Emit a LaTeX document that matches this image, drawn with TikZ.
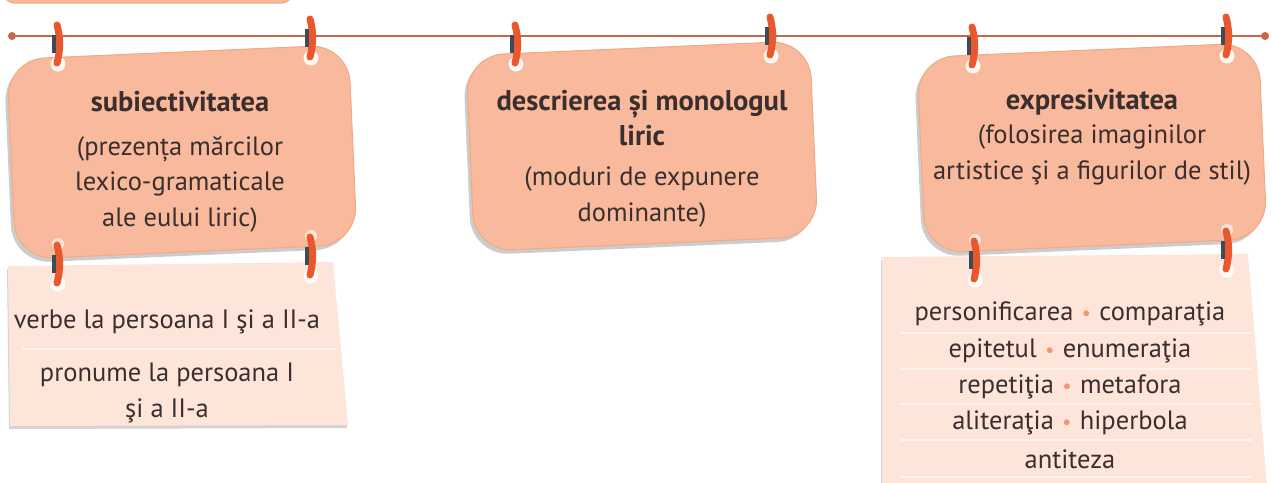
\documentclass[tikz,border=0pt]{standalone}
\usepackage{fontspec}
\setmainfont{PT Sans}
\usetikzlibrary{shadows}
\definecolor{salmon}{HTML}{F8B99C}
\definecolor{salmonedge}{HTML}{F4A884}
\definecolor{cardfill}{HTML}{FDE5D9}
\definecolor{linecol}{HTML}{C8664A}
\definecolor{pegorange}{HTML}{E8582C}
\definecolor{pegdark}{HTML}{3E4B55}
\definecolor{txt}{HTML}{3A2E2E}
\definecolor{bul}{HTML}{F29470}
\tikzset{
  x=1pt,y=-1pt,
  bigbox/.style={draw=salmonedge, line width=1pt, fill=salmon, rounded corners=38pt,
    rotate=2.5, inner sep=0pt,
    drop shadow={shadow xshift=-3pt, shadow yshift=-4pt, opacity=0.4, fill=gray}},
  cardshape/.style={fill=cardfill, drop shadow={shadow xshift=-1pt, shadow yshift=-3pt, opacity=0.35, fill=gray}},
  sep/.style={draw=white, line width=1.2pt, opacity=0.55},
  ttl/.style={text=txt, font=\fontsize{28.5}{35}\selectfont\bfseries, align=center, inner sep=0pt},
  body/.style={text=txt, font=\fontsize{26.5}{35.5}\selectfont, align=center, inner sep=0pt},
  peg/.pic={
    \fill[white, opacity=0.9] (0,20) circle (7.5);
    \fill[white, opacity=0.6] (0,-20) circle (6);
    \draw[pegorange, line width=7pt, line cap=round] (-1,-19) .. controls (2.5,-6) and (2.5,6) .. (-1,19);
    \draw[pegdark, line width=3.8pt] (-4,-9) -- (-4,9);
  }
}
\begin{document}
\begin{tikzpicture}
\useasboundingbox (0,0) rectangle (1273,482);
\begin{scope}
\clip (0,0) rectangle (1273,482);
% cropped box at top left
\draw[salmonedge, fill=salmon, line width=1pt, rounded corners=10pt] (4,-40) rectangle (292,3);

% string line
\coordinate (L) at (12,36);
\coordinate (R) at (1265,36);
\draw[linecol, line width=1.4pt] (L) -- (R);
\fill[linecol] (L) circle (4);
\fill[linecol] (R) circle (4);

% lower cards
\path[cardshape] (8,266) -- (333,262) -- (348,425) -- (10,426) -- cycle;
\draw[sep] (22,349) -- (336,349);
\path[cardshape] (882,257) -- (1248,254) -- (1268,500) -- (882,500) -- cycle;
\foreach \yy in {333,369,404,440,477}{\draw[sep] (900,\yy) -- (1252,\yy);}

% main boxes
\node[bigbox, minimum width=342pt, minimum height=200pt] (b1) at (182,152) {};
\node[bigbox, minimum width=344pt, minimum height=196pt] (b2) at (642,146) {};
\node[bigbox, minimum width=342pt, minimum height=196pt] (b3) at (1092,148) {};

% texts box 1
\node[ttl] (t1) at (180,102) {subiectivitatea};
\node[body] (d1) at (180,184) {(prezența mărcilor\\lexico-gramaticale\\ale eului liric)};
% box 2
\node[ttl] (t2) at (642,118) {descrierea și monologul\\liric};
\node[body] (d2) at (642,197) {(moduri de expunere\\dominante)};
% box 3
\node[ttl] (t3) at (1092,102) {expresivitatea};
\node[body] (d3) at (1092,155) {(folosirea imaginilor\\artistice şi a figurilor de stil)};

% card 1 texts
\node[body] (c11) at (167,322) {verbe la persoana I şi a II-a};
\node[body] (c12) at (167,393) {pronume la persoana I\\şi a II-a};

% card 3 texts
\newcommand{\bdot}{\hspace{0.35em}{\color{bul}\raisebox{0.12em}{\scalebox{0.6}{$\bullet$}}}\hspace{0.35em}}
\node[body] (c31) at (1070,314) {personificarea\bdot comparaţia};
\node[body] (c32) at (1070,351) {epitetul\bdot enumeraţia};
\node[body] (c33) at (1070,387) {repetiţia\bdot metafora};
\node[body] (c34) at (1070,423) {aliteraţia\bdot hiperbola};
\node[body] (c35) at (1070,459) {antiteza};

% pegs on the line
\pic at (58,44) {peg};
\pic at (311,38) {peg};
\pic at (516,44) {peg};
\pic at (771,36) {peg};
\pic at (973,46) {peg};
\pic at (1227,36) {peg};
% pegs holding cards
\pic at (58,264) {peg};
\pic at (311,256) {peg};
\pic at (975,260) {peg};
\pic at (1227,250) {peg};
\end{scope}
\end{tikzpicture}
\end{document}
